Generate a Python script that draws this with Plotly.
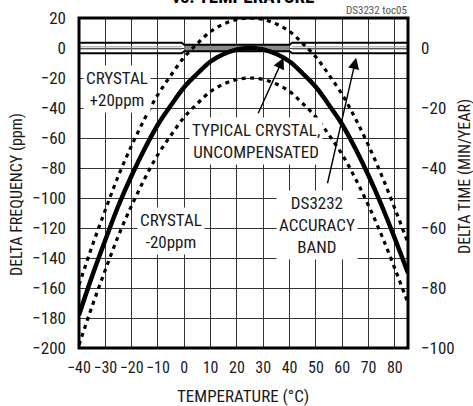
import plotly.graph_objects as go

# ---- data ----
temps = [-40, -35, -30, -25, -20, -15, -10, -5, 0, 5, 10, 15, 20, 25, 30,
         35, 40, 45, 50, 55, 60, 65, 70, 75, 80, 85]
typical_ppm = [-178, -152, -128, -105, -85, -67, -51, -38, -26, -17, -9, -4, -1, 0, -1,
               -4, -9, -17, -26, -38, -51, -67, -85, -105, -127, -150]
crystal_plus20 = [-158, -132, -108, -85, -65, -47, -31, -18, -6, 3, 11, 16, 19, 20, 19,
                  16, 11, 3, -6, -18, -31, -47, -65, -85, -107, -130]
crystal_minus20 = [-198, -172, -148, -125, -105, -87, -71, -58, -46, -37, -29, -24, -21, -20, -21,
                   -24, -29, -37, -46, -58, -71, -87, -105, -125, -147, -170]

band_T = [-40, -1, 0, 40, 41, 85]
band_hi = [3.5, 3.5, 2.2, 2.2, 3.5, 3.5]
band_lo = [-3.5, -3.5, -2.2, -2.2, -3.5, -3.5]
mid_T = [0, 40]
mid_hi = [2.2, 2.2]
mid_lo = [-2.2, -2.2]
outer_left_T = [-40, -1]
outer_right_T = [41, 85]
inner_hi = [0.8, 0.8]
inner_lo = [-0.8, -0.8]

x_ticks = [-40, -30, -20, -10, 0, 10, 20, 30, 40, 50, 60, 70, 80]
y_ticks = [20, 0, -20, -40, -60, -80, -100, -120, -140, -160, -180, -200]
y2_ticks = [0, -20, -40, -60, -80, -100]

FONT = "Liberation Sans Narrow, Arial Narrow, Roboto Condensed, Liberation Sans, Arial, sans-serif"
TXT = "#1a1a1a"

fig = go.Figure()

# accuracy band
fig.add_trace(go.Scatter(x=mid_T, y=mid_hi, mode="lines", line=dict(color="black", width=0),
                         showlegend=False, hoverinfo="skip"))
fig.add_trace(go.Scatter(x=mid_T, y=mid_lo, mode="lines", line=dict(color="black", width=0),
                         fill="tonexty", fillcolor="#8a8a8a", showlegend=False, hoverinfo="skip"))
for seg in (outer_left_T, outer_right_T):
    for yy in (inner_hi, inner_lo):
        fig.add_trace(go.Scatter(x=seg, y=yy, mode="lines", line=dict(color="#9a9a9a", width=1),
                                 showlegend=False, hoverinfo="skip"))
for yy in (band_hi, band_lo):
    fig.add_trace(go.Scatter(x=band_T, y=yy, mode="lines", line=dict(color="black", width=2),
                             showlegend=False, hoverinfo="skip"))

# crystal curves
for yy in (crystal_plus20, crystal_minus20):
    fig.add_trace(go.Scatter(x=temps, y=yy, mode="lines",
                             line=dict(color="black", width=3.2, dash="4px,4.5px", shape="spline"),
                             showlegend=False, hoverinfo="skip"))
fig.add_trace(go.Scatter(x=temps, y=typical_ppm, mode="lines",
                         line=dict(color="black", width=4.5, shape="spline"),
                         showlegend=False, hoverinfo="skip"))

# invisible trace for right axis
fig.add_trace(go.Scatter(x=[temps[0]], y=[0], yaxis="y2", mode="markers",
                         marker=dict(opacity=0), showlegend=False, hoverinfo="skip"))

ann_font = dict(family=FONT, size=17, color=TXT)
for txt, x, y in [("CRYSTAL<br>+20ppm", -25.6, -27),
                  ("CRYSTAL<br>-20ppm", -5.2, -122),
                  ("TYPICAL CRYSTAL,<br>UNCOMPENSATED", 27.4, -62),
                  ("DS3232<br>ACCURACY<br>BAND", 50.5, -118)]:
    fig.add_annotation(x=x, y=y, text=txt, showarrow=False, font=ann_font,
                       bgcolor="white", borderpad=2, xref="x", yref="y")

# arrows
fig.add_annotation(x=37.7, y=-6.5, ax=-26, ay=57, text="", showarrow=True,
                   arrowhead=2, arrowsize=1.6, arrowwidth=1.4, arrowcolor="black",
                   xref="x", yref="y")
fig.add_annotation(x=65.3, y=-6.5, ax=-29, ay=127, text="", showarrow=True,
                   arrowhead=2, arrowsize=1.6, arrowwidth=1.4, arrowcolor="black",
                   xref="x", yref="y")

# axis titles and misc text (pixel positions, converted below)
W, H = 473, 406
L, R, T, B = 79, 65, 18, 58
pw, ph = W - L - R, H - T - B


def px(x, y):
    return (x - L) / pw, 1 - (y - T) / ph


for txt, x, y, ang, size, xa, color, bold in [
    ("DELTA FREQUENCY (ppm)", 16, 195, -90, 16, "center", TXT, False),
    ("DELTA TIME (MIN/YEAR)", 464, 177, -90, 16, "center", TXT, False),
    ("TEMPERATURE (°C)", 243, 396, 0, 17, "center", TXT, False),
    ("DS3232 toc05", 409, 11, 0, 11, "right", "#555", False),
    ("vs. TEMPERATURE", 243, -4, 0, 19, "center", "black", True),
]:
    xx, yy = px(x, y)
    fig.add_annotation(x=xx, y=yy, xref="paper", yref="paper",
                       text=f"<b>{txt}</b>" if bold else txt,
                       textangle=ang, showarrow=False, xanchor=xa, yanchor="middle",
                       font=dict(family=FONT, size=size, color=color))

fig.add_shape(type="rect", xref="paper", yref="paper", x0=0, y0=0, x1=1, y1=1,
              line=dict(color="black", width=3), layer="above")

fig.update_layout(
    width=W, height=H,
    margin=dict(l=L, r=R, t=T, b=B, autoexpand=False),
    paper_bgcolor="white", plot_bgcolor="white",
    font=dict(family=FONT, size=17, color=TXT),
    xaxis=dict(range=[-40, 85], tickvals=x_ticks, showgrid=True, gridcolor="#333",
               gridwidth=1, zeroline=False, showline=False, ticks="", tickangle=0,
               automargin=False, ticklabelstandoff=8, tickfont=dict(size=16)),
    yaxis=dict(range=[-200, 20], tickvals=y_ticks, showgrid=True, gridcolor="#333",
               gridwidth=1, zeroline=False, showline=False, ticks="", automargin=False,
               ticklabelstandoff=12, tickfont=dict(size=17)),
    yaxis2=dict(range=[-100, 10], tickvals=y2_ticks, overlaying="y", side="right",
                showgrid=False, zeroline=False, showline=False, ticks="", automargin=False,
                ticklabelstandoff=12, tickfont=dict(size=17)),
)

fig.write_html("out.html", config={"displayModeBar": False},
               post_script="document.body.style.margin='0';document.body.style.overflow='hidden';")
